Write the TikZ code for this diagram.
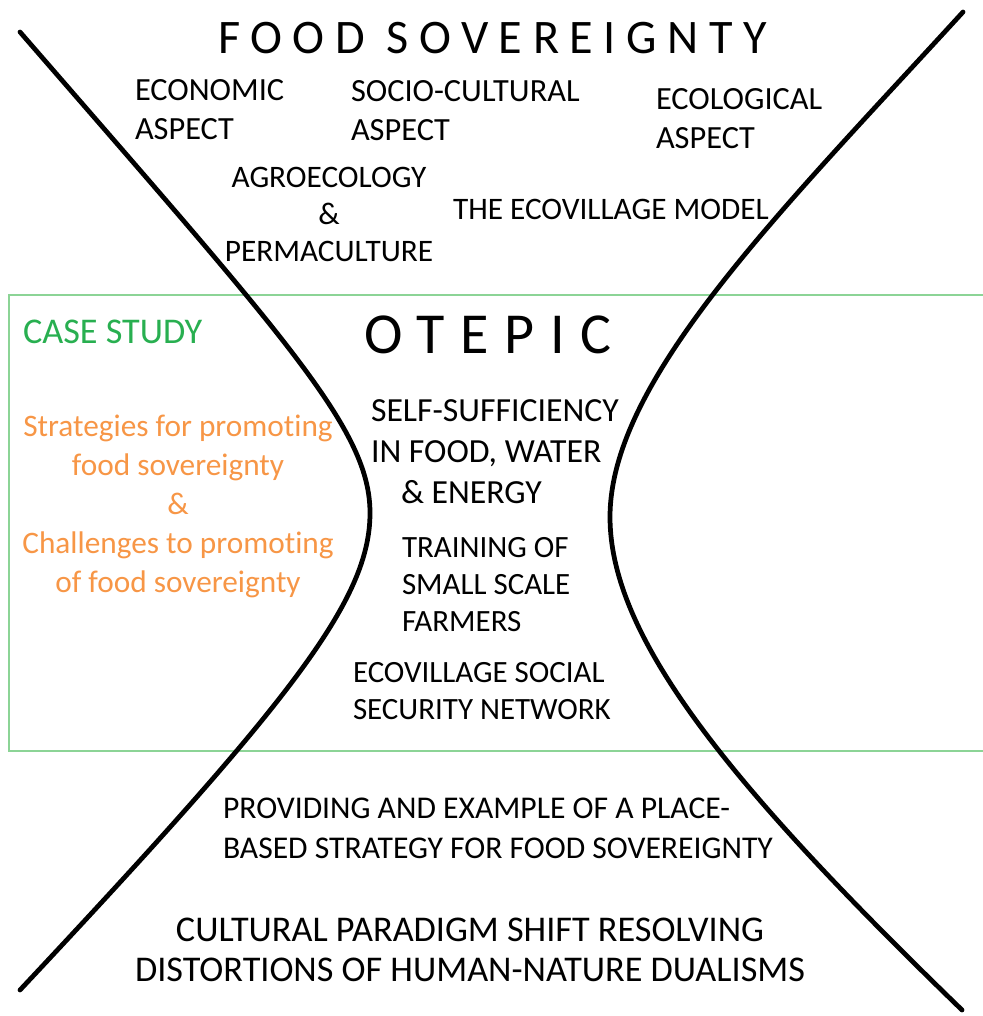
\documentclass[tikz,border=0pt]{standalone}
\usepackage{fontspec}
\setmainfont{Carlito}[Ligatures=NoCommon]
\definecolor{boxgreen}{RGB}{140,212,150}
\definecolor{labelgreen}{RGB}{40,175,80}
\definecolor{stratorange}{RGB}{247,150,70}
\begin{document}
\begin{tikzpicture}[x=0.01cm,y=-0.01cm,
  lbl/.style={inner sep=0pt, outer sep=0pt, anchor=west, align=left},
  ctr/.style={inner sep=0pt, outer sep=0pt, anchor=center, align=center},
  curve/.style={line width=1.35pt, black, line cap=round},
  ]
\useasboundingbox (0,0) rectangle (983,1016);
% case study frame, open on the right
\begin{scope}
\clip (0,0) rectangle (983,1016);
\draw[boxgreen, line width=0.55pt] (990,295) -| (9,751) -- (990,751);
\end{scope}
% hourglass curves
\coordinate (lt) at (20,32);
\coordinate (lv) at (370,513);
\coordinate (lb) at (20,990);
\coordinate (rt) at (963,12);
\coordinate (rv) at (610,517);
\coordinate (rb) at (962,1010);
\draw[curve] (lt) .. controls (290,343) and (370,430) .. (lv)
                  .. controls (370,600) and (292,700) .. (lb);
\draw[curve] (rt) .. controls (780,212) and (610,380) .. (rv)
                  .. controls (610,640) and (735,790) .. (rb);
% titles
\node[lbl, font=\fontsize{13.7}{16}\selectfont\addfontfeature{LetterSpace=22}] (fs) at (218,38) {FOOD SOVEREIGNTY};
\node[lbl, font=\fontsize{16.5}{19}\selectfont\addfontfeature{LetterSpace=27}] (otepic) at (364,335) {OTEPIC};
% upper half
\node[lbl, font=\fontsize{9.2}{11.1}\selectfont] (econ) at (135,109.5) {ECONOMIC\\ASPECT};
\node[lbl, font=\fontsize{9.2}{11.1}\selectfont] (socio) at (351,111) {SOCIO-CULTURAL\\ASPECT};
\node[lbl, font=\fontsize{9.2}{11.1}\selectfont] (eco) at (656,118.5) {ECOLOGICAL\\ASPECT};
\node[ctr, font=\fontsize{8.9}{10.4}\selectfont] (agro) at (329,214.5) {AGROECOLOGY\\\&\\PERMACULTURE};
\node[lbl, font=\fontsize{8.9}{11}\selectfont] (model) at (453,209) {THE ECOVILLAGE MODEL};
% case study band
\node[lbl, text=labelgreen, font=\fontsize{10.3}{12}\selectfont] (case) at (23,332) {CASE STUDY};
\node[ctr, text=stratorange, font=\fontsize{8.9}{11.1}\selectfont] (strat) at (178,506)
  {Strategies for promoting\\food sovereignty\\\&\\Challenges to promoting\\of food sovereignty};
\node[lbl, font=\fontsize{9.6}{11.67}\selectfont] (self) at (371,451.5)
  {SELF-SUFFICIENCY\\IN FOOD, WATER\\\hspace*{3mm}\& ENERGY};
\node[lbl, font=\fontsize{8.8}{10.4}\selectfont] (train) at (402,584.5) {TRAINING OF\\SMALL SCALE\\FARMERS};
\node[lbl, font=\fontsize{8.8}{10.5}\selectfont] (net) at (353,691.5) {ECOVILLAGE SOCIAL\\SECURITY NETWORK};
% lower half
\node[lbl, font=\fontsize{9.0}{11.4}\selectfont] (place) at (223,828)
  {PROVIDING AND EXAMPLE OF A PLACE-\\BASED STRATEGY FOR FOOD SOVEREIGNTY};
\node[ctr, font=\fontsize{10.3}{11.4}\selectfont] (shift) at (470,950)
  {CULTURAL PARADIGM SHIFT RESOLVING\\DISTORTIONS OF HUMAN-NATURE DUALISMS};
\end{tikzpicture}
\end{document}
